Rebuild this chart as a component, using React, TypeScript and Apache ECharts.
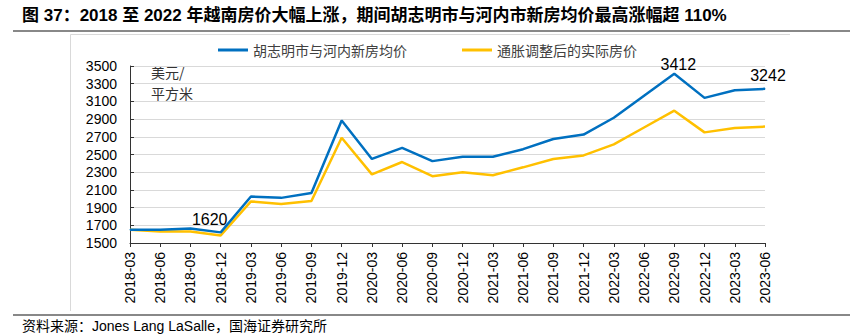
import React, { useEffect, useRef } from "react";
import * as echarts from "echarts";

const categories = [
  "2018-03", "2018-06", "2018-09", "2018-12",
  "2019-03", "2019-06", "2019-09", "2019-12",
  "2020-03", "2020-06", "2020-09", "2020-12",
  "2021-03", "2021-06", "2021-09", "2021-12",
  "2022-03", "2022-06", "2022-09", "2022-12",
  "2023-03", "2023-06",
];

const nominalPrice = [
  1650, 1650, 1665, 1620,
  2025, 2010, 2065, 2885,
  2450, 2575, 2425, 2475,
  2475, 2560, 2675, 2725,
  2915, 3165, 3412, 3140,
  3225, 3242,
];

const realPrice = [
  1650, 1630, 1630, 1585,
  1970, 1940, 1975, 2690,
  2275, 2415, 2255, 2300,
  2265, 2355, 2450, 2490,
  2615, 2805, 2995, 2750,
  2800, 2815,
];

const seriesNames = ["胡志明市与河内新房均价", "通胀调整后的实际房价"];
const labeledIdx: Record<number, { offset: number[]; distance: number }> = {
  3: { offset: [-11, 0], distance: 4 },
  18: { offset: [4, 0], distance: 1 },
  21: { offset: [3, 0], distance: 5 },
};

const titleText =
  "图 37：2018 至 2022 年越南房价大幅上涨，期间胡志明市与河内市新房均价最高涨幅超 110%";
const sourceText = "资料来源：Jones Lang LaSalle，国海证券研究所";

const NUM_FONT = "'Liberation Sans', Arial, sans-serif";
const CJK_FONT = "'Noto Sans CJK SC', sans-serif";

export default function App() {
  const ref = useRef<HTMLDivElement>(null);

  useEffect(() => {
    if (!ref.current) return;
    const chart = echarts.init(ref.current, null, { renderer: "svg" });

    const blueData = nominalPrice.map((v, i) =>
      labeledIdx[i]
        ? {
            value: v,
            label: {
              show: true,
              position: "top",
              offset: labeledIdx[i].offset,
              distance: labeledIdx[i].distance,
              formatter: "{c}",
              fontSize: 16,
              color: "#000",
              fontFamily: NUM_FONT,
            },
          }
        : v
    );

    chart.setOption({
      animation: false,
      backgroundColor: "#fff",
      grid: { left: 130, right: 92, top: 66, bottom: 93 },
      legend: {
        left: 213,
        top: 38,
        itemGap: 55,
        itemWidth: 30,
        itemHeight: 3,
        icon: "rect",
        data: seriesNames,
        textStyle: { fontSize: 14, color: "#404040", fontFamily: CJK_FONT },
      },
      xAxis: {
        type: "category",
        data: categories,
        boundaryGap: false,
        axisLine: { lineStyle: { color: "#333", width: 1 } },
        axisTick: { show: true, length: 4, alignWithLabel: true, lineStyle: { color: "#333" } },
        axisLabel: {
          rotate: 90,
          interval: 0,
          margin: 9,
          fontSize: 14,
          color: "#000",
          fontFamily: NUM_FONT,
        },
        splitLine: { show: false },
      },
      yAxis: {
        type: "value",
        min: 1500,
        max: 3500,
        interval: 200,
        axisLine: { show: true, lineStyle: { color: "#333", width: 1 } },
        axisTick: { show: true, inside: true, length: 4, lineStyle: { color: "#333" } },
        axisLabel: {
          margin: 13,
          fontSize: 14,
          color: "#000",
          fontFamily: NUM_FONT,
          formatter: (v: number) => String(v),
        },
        splitLine: { show: true, lineStyle: { color: "#d9d9d9", width: 1 } },
      },
      series: [
        {
          name: seriesNames[0],
          type: "line",
          data: blueData,
          symbol: "circle",
          symbolSize: 1,
          showSymbol: true,
          itemStyle: { color: "#0070C0" },
          lineStyle: { color: "#0070C0", width: 2.5 },
          z: 3,
        },
        {
          name: seriesNames[1],
          type: "line",
          data: realPrice,
          symbol: "none",
          itemStyle: { color: "#FFC000" },
          lineStyle: { color: "#FFC000", width: 2.5 },
          z: 2,
        },
      ],
      graphic: [
        {
          type: "text",
          left: 22,
          top: 7,
          style: {
            text: titleText,
            fontSize: 17,
            fontWeight: "bold",
            fill: "#000",
            fontFamily: "'Liberation Sans', 'Noto Sans CJK SC', sans-serif",
          },
        },
        {
          type: "line",
          shape: { x1: 13, y1: 31, x2: 850, y2: 31 },
          style: { stroke: "#888", lineWidth: 2 },
        },
        {
          type: "line",
          shape: { x1: 70.5, y1: 34.5, x2: 790, y2: 34.5 },
          style: { stroke: "#d9d9d9", lineWidth: 1 },
        },
        {
          type: "line",
          shape: { x1: 70.5, y1: 34.5, x2: 70.5, y2: 311 },
          style: { stroke: "#d9d9d9", lineWidth: 1 },
        },
        {
          type: "text",
          left: 151,
          top: 65,
          style: { text: "美元/", fontSize: 14, fill: "#333", fontFamily: CJK_FONT },
        },
        {
          type: "text",
          left: 151,
          top: 86,
          style: { text: "平方米", fontSize: 14, fill: "#333", fontFamily: CJK_FONT },
        },
        {
          type: "line",
          shape: { x1: 13, y1: 315, x2: 850, y2: 315 },
          style: { stroke: "#888", lineWidth: 2 },
        },
        {
          type: "text",
          left: 22,
          top: 319,
          style: {
            text: sourceText,
            fontSize: 14,
            fill: "#000",
            fontFamily: "'Liberation Sans', 'Noto Sans CJK SC', sans-serif",
          },
        },
      ],
    });

    return () => chart.dispose();
  }, []);

  return (
    <div
      ref={ref}
      style={{ position: "fixed", left: 0, top: 0, width: 857, height: 336 }}
    />
  );
}
